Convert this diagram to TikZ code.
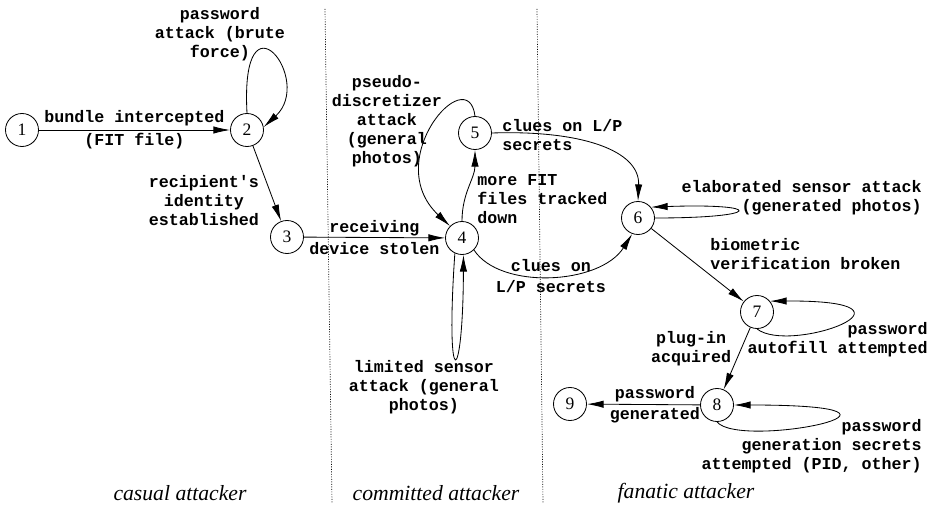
\documentclass[tikz,border=0pt]{standalone}
\usepackage{fontspec}
\setmainfont{Liberation Serif}
\setmonofont{Liberation Mono}
\usetikzlibrary{arrows.meta}

\begin{document}
\begin{tikzpicture}[x=0.6pt,y=-0.6pt]
\tikzstyle{state}=[circle,draw,line width=0.5pt,minimum size=19.8pt,inner sep=0pt,font=\fontsize{10.5}{12}\selectfont]
\tikzstyle{lbl}=[inner sep=0pt,align=center,font=\ttfamily\bfseries\fontsize{10}{11.4}\selectfont]
\tikzstyle{tr}=[-{Latex[length=10pt,width=4.4pt]},line width=0.5pt]
\tikzstyle{zone}=[font=\itshape\fontsize{13}{15}\selectfont]
\tikzstyle{sep}=[line width=0.4pt,dash pattern=on 0.6pt off 0.9pt]
\useasboundingbox (0,0) rectangle (935,513);

% attacker zones
\draw[sep] (325,9) -- (332,503);
\draw[sep] (537,9) -- (543,503);
\node[zone] (casual) at (180,493) {casual attacker};
\node[zone] (committed) at (436,493) {committed attacker};
\node[zone] (fanatic) at (686,493) {fanatic attacker};

% states
\node[state] (s1) at (22,130) {1};
\node[state] (s2) at (247,130) {2};
\node[state] (s3) at (287,237) {3};
\node[state] (s4) at (462,238) {4};
\node[state] (s5) at (475,133) {5};
\node[state] (s6) at (638,218) {6};
\node[state] (s7) at (757,312) {7};
\node[state] (s8) at (717,405) {8};
\node[state] (s9) at (570,404) {9};

% transitions
\draw[tr] (s1) -- node[lbl] (t12) {bundle intercepted\\[2.2pt](FIT file)} (s2);
\draw[tr] (s2.north) .. controls (240,-15) and (315,80) .. (s2.10);
\node[lbl] (t22) at (220,34) {password\\attack (brute\\force)};
\draw[tr] (s2) -- (s3);
\node[lbl] (t23) at (204,201) {recipient's\\identity\\established};
\draw[tr] (s3) -- node[lbl] (t34) {receiving\\[1.6pt]device stolen} (s4);
\draw[tr] (s4.-115) .. controls (445,395) and (463,390) .. (s4.-85);
\node[lbl] (t44) at (424,387) {limited sensor\\attack (general\\photos)};
\draw[tr] (s4.north) to[out=90,in=-90] (s5.south);
\node[lbl,anchor=west,align=left] (t45) at (477,199) {more FIT\\files tracked\\down};
\draw[tr] (s5.north) .. controls (468,60) and (380,160) .. (s4.135);
\node[lbl] (t54) at (387,121) {pseudo-\\discretizer\\attack\\(general\\photos)};
\draw[tr] (s5.east) .. controls (580,130) and (640,150) .. (s6.north);
\node[lbl,anchor=west,align=left] (t56) at (502,135.5) {clues on L/P\\secrets};
\draw[tr] (s4.-45) .. controls (500,290) and (600,285) .. node[lbl] (t46) {clues on\\[1.2pt]L/P secrets} (s6.250);
\draw[tr] (s6.east) .. controls (765,218) and (765,203) .. (s6.40);
\node[lbl,anchor=east,align=right] (t66) at (922,198) {elaborated sensor attack\\(generated photos)};
\draw[tr] (s6) -- (s7);
\node[lbl,anchor=west,align=left] (t67) at (710,254) {biometric\\verification broken};
\draw[tr] (s7.south) .. controls (790,355) and (940,300) .. (s7.40);
\node[lbl,anchor=east,align=right] (t77) at (928,339.5) {password\\autofill attempted};
\draw[tr] (s7) -- (s8);
\node[lbl] (t78) at (691,349) {plug-in\\acquired};
\draw[tr] (s8.south) .. controls (740,450) and (960,405) .. (s8.east);
\node[lbl,anchor=east,align=right] (t88) at (922,446) {password\\generation secrets\\attempted (PID, other)};
\draw[tr] (s8) -- node[lbl,pos=0.4] (t89) {password\\[1pt]generated} (s9);
\end{tikzpicture}
\end{document}
